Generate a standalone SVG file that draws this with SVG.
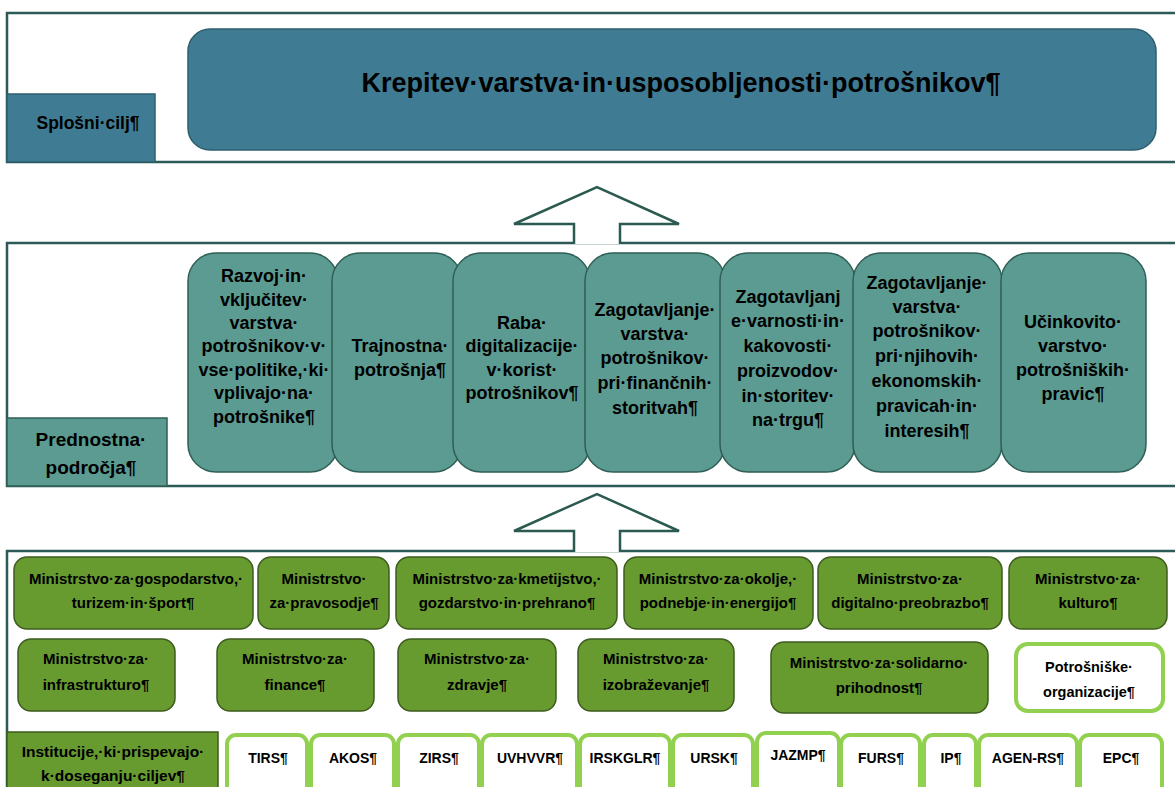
<svg xmlns="http://www.w3.org/2000/svg" width="1175" height="787" viewBox="0 0 1175 787">
<style>
text{font-family:'Liberation Sans',Arial,sans-serif;font-weight:bold;fill:#000;text-anchor:middle}
.frame{fill:#fff;stroke:#2b5a57;stroke-width:2.5}
.goal{fill:#3f7c94;stroke:#2d5f6c;stroke-width:1.5}
.prio{fill:#5c9b91;stroke:#2f5f55;stroke-width:1.5}
.min{fill:#679a2f;stroke:#3d5c1e;stroke-width:1.5}
.org{fill:#fff;stroke:#92d050;stroke-width:4}
.arrow{fill:#fff;stroke:#2b5a50;stroke-width:2.5;stroke-linejoin:miter}
.t18{font-size:18px}
.t15{font-size:15px}
.t14{font-size:14px}
</style>
<g id="frames">
<rect class="frame" x="7" y="13" width="1180" height="149"/>
<rect class="frame" x="7" y="243" width="1180" height="243"/>
<rect class="frame" x="7" y="551" width="1180" height="260"/>
</g>
<g id="connectors">
<polyline class="arrow" points="574,244 574,224 514,224 597,187 679,224 620,224 620,244"/>
<polyline class="arrow" points="574,552 574,531 514,531 597,494 679,531 620,531 620,552"/>
</g>
<g id="label-splosni">
<rect class="goal" x="7" y="94" width="148" height="68"/>
<text x="88" y="129" style="font-size:17.5px">Splošni·cilj¶</text>
</g>
<g id="goal">
<rect class="goal" x="188" y="29" width="968" height="121" rx="22"/>
<text x="681" y="92" style="font-size:27px">Krepitev·varstva·in·usposobljenosti·potrošnikov¶</text>
</g>
<g id="label-prednostna">
<rect class="prio" x="7" y="418" width="160" height="68"/>
<text x="91" y="446" style="font-size:19px">Prednostna·</text>
<text x="91" y="474" style="font-size:19px">področja¶</text>
</g>
<g id="p1">
<rect class="prio" x="188" y="253" width="150" height="219" rx="28"/>
<text class="t18" x="264"><tspan x="264" y="282">Razvoj·in·</tspan><tspan x="264" y="306">vključitev·</tspan><tspan x="264" y="329">varstva·</tspan><tspan x="264" y="352">potrošnikov·v·</tspan><tspan x="264" y="376">vse·politike,·ki·</tspan><tspan x="264" y="399">vplivajo·na·</tspan><tspan x="264" y="423">potrošnike¶</tspan></text>
</g>
<g id="p2">
<rect class="prio" x="332" y="253" width="130" height="219" rx="28"/>
<text class="t18"><tspan x="400" y="352">Trajnostna·</tspan><tspan x="400" y="376">potrošnja¶</tspan></text>
</g>
<g id="p3">
<rect class="prio" x="453" y="253" width="137" height="219" rx="28"/>
<text class="t18"><tspan x="522" y="329">Raba·</tspan><tspan x="522" y="352">digitalizacije·</tspan><tspan x="522" y="376">v·korist·</tspan><tspan x="522" y="399">potrošnikov¶</tspan></text>
</g>
<g id="p4">
<rect class="prio" x="585" y="253" width="140" height="219" rx="28"/>
<text class="t18"><tspan x="655" y="316">Zagotavljanje·</tspan><tspan x="655" y="340">varstva·</tspan><tspan x="655" y="364">potrošnikov·</tspan><tspan x="655" y="389">pri·finančnih·</tspan><tspan x="655" y="414">storitvah¶</tspan></text>
</g>
<g id="p5">
<rect class="prio" x="720" y="253" width="135" height="219" rx="28"/>
<text class="t18"><tspan x="788" y="303">Zagotavljanj</tspan><tspan x="788" y="327">e·varnosti·in·</tspan><tspan x="788" y="352">kakovosti·</tspan><tspan x="788" y="377">proizvodov·</tspan><tspan x="788" y="402">in·storitev·</tspan><tspan x="788" y="426">na·trgu¶</tspan></text>
</g>
<g id="p6">
<rect class="prio" x="853" y="253" width="149" height="219" rx="28"/>
<text class="t18"><tspan x="927" y="289">Zagotavljanje·</tspan><tspan x="927" y="313">varstva·</tspan><tspan x="927" y="337">potrošnikov·</tspan><tspan x="927" y="362">pri·njihovih·</tspan><tspan x="927" y="387">ekonomskih·</tspan><tspan x="927" y="412">pravicah·in·</tspan><tspan x="927" y="437">interesih¶</tspan></text>
</g>
<g id="p7">
<rect class="prio" x="1001" y="253" width="145" height="219" rx="28"/>
<text class="t18"><tspan x="1073" y="328">Učinkovito·</tspan><tspan x="1073" y="352">varstvo·</tspan><tspan x="1073" y="376">potrošniških·</tspan><tspan x="1073" y="400">pravic¶</tspan></text>
</g>
<g id="m1">
<rect class="min" x="14" y="557" width="239" height="72" rx="13"/>
<text class="t15"><tspan x="136" y="584">Ministrstvo·za·gospodarstvo,·</tspan><tspan x="133" y="608">turizem·in·šport¶</tspan></text>
</g>
<g id="m2">
<rect class="min" x="258" y="557" width="131" height="72" rx="13"/>
<text class="t15"><tspan x="324" y="584">Ministrstvo·</tspan><tspan x="324" y="608">za·pravosodje¶</tspan></text>
</g>
<g id="m3">
<rect class="min" x="396" y="557" width="221" height="72" rx="13"/>
<text class="t15"><tspan x="507" y="584">Ministrstvo·za·kmetijstvo,·</tspan><tspan x="507" y="608">gozdarstvo·in·prehrano¶</tspan></text>
</g>
<g id="m4">
<rect class="min" x="624" y="557" width="189" height="72" rx="13"/>
<text class="t15"><tspan x="718" y="584">Ministrstvo·za·okolje,·</tspan><tspan x="718" y="608">podnebje·in·energijo¶</tspan></text>
</g>
<g id="m5">
<rect class="min" x="818" y="557" width="184" height="72" rx="13"/>
<text class="t15"><tspan x="910" y="584">Ministrstvo·za·</tspan><tspan x="910" y="608">digitalno·preobrazbo¶</tspan></text>
</g>
<g id="m6">
<rect class="min" x="1009" y="557" width="158" height="72" rx="13"/>
<text class="t15"><tspan x="1088" y="584">Ministrstvo·za·</tspan><tspan x="1088" y="608">kulturo¶</tspan></text>
</g>
<g id="m7">
<rect class="min" x="18" y="639" width="157" height="72" rx="13"/>
<text class="t15"><tspan x="96" y="664">Ministrstvo·za·</tspan><tspan x="96" y="690">infrastrukturo¶</tspan></text>
</g>
<g id="m8">
<rect class="min" x="217" y="639" width="157" height="72" rx="13"/>
<text class="t15"><tspan x="295" y="664">Ministrstvo·za·</tspan><tspan x="295" y="690">finance¶</tspan></text>
</g>
<g id="m9">
<rect class="min" x="398" y="639" width="158" height="72" rx="13"/>
<text class="t15"><tspan x="477" y="664">Ministrstvo·za·</tspan><tspan x="477" y="690">zdravje¶</tspan></text>
</g>
<g id="m10">
<rect class="min" x="578" y="639" width="156" height="72" rx="13"/>
<text class="t15"><tspan x="656" y="664">Ministrstvo·za·</tspan><tspan x="656" y="690">izobraževanje¶</tspan></text>
</g>
<g id="m11">
<rect class="min" x="771" y="642" width="217" height="71" rx="13"/>
<text class="t15"><tspan x="879" y="668">Ministrstvo·za·solidarno·</tspan><tspan x="879" y="693">prihodnost¶</tspan></text>
</g>
<g id="m12">
<rect class="org" x="1016" y="644" width="147" height="67" rx="12"/>
<text style="font-size:14.5px"><tspan x="1089" y="672">Potrošniške·</tspan><tspan x="1089" y="697">organizacije¶</tspan></text>
</g>
<g id="label-institucije">
<rect class="min" x="7" y="732" width="211" height="70"/>
<text style="font-size:15.5px"><tspan x="113" y="757">Institucije,·ki·prispevajo·</tspan><tspan x="113" y="781">k·doseganju·ciljev¶</tspan></text>
</g>
<g id="i1"><rect class="org" x="227" y="735" width="80" height="60" rx="9"/><text class="t14" x="268" y="763">TIRS¶</text></g>
<g id="i2"><rect class="org" x="311" y="735" width="83" height="60" rx="9"/><text class="t14" x="353" y="763">AKOS¶</text></g>
<g id="i3"><rect class="org" x="398" y="735" width="81" height="60" rx="9"/><text class="t14" x="439" y="763">ZIRS¶</text></g>
<g id="i4"><rect class="org" x="482" y="735" width="95" height="60" rx="9"/><text class="t14" x="530" y="763">UVHVVR¶</text></g>
<g id="i5"><rect class="org" x="580" y="735" width="90" height="60" rx="9"/><text class="t14" x="625" y="763">IRSKGLR¶</text></g>
<g id="i6"><rect class="org" x="673" y="735" width="80" height="60" rx="9"/><text class="t14" x="714" y="763">URSK¶</text></g>
<g id="i7"><rect class="org" x="757" y="733" width="82" height="62" rx="9"/><text class="t14" x="798" y="760">JAZMP¶</text></g>
<g id="i8"><rect class="org" x="841" y="735" width="79" height="60" rx="9"/><text class="t14" x="881" y="763">FURS¶</text></g>
<g id="i9"><rect class="org" x="924" y="735" width="52" height="60" rx="9"/><text class="t14" x="951" y="763">IP¶</text></g>
<g id="i10"><rect class="org" x="979" y="735" width="98" height="60" rx="9"/><text class="t14" x="1028" y="763">AGEN-RS¶</text></g>
<g id="i11"><rect class="org" x="1080" y="735" width="82" height="60" rx="9"/><text class="t14" x="1121" y="763">EPC¶</text></g>
</svg>
